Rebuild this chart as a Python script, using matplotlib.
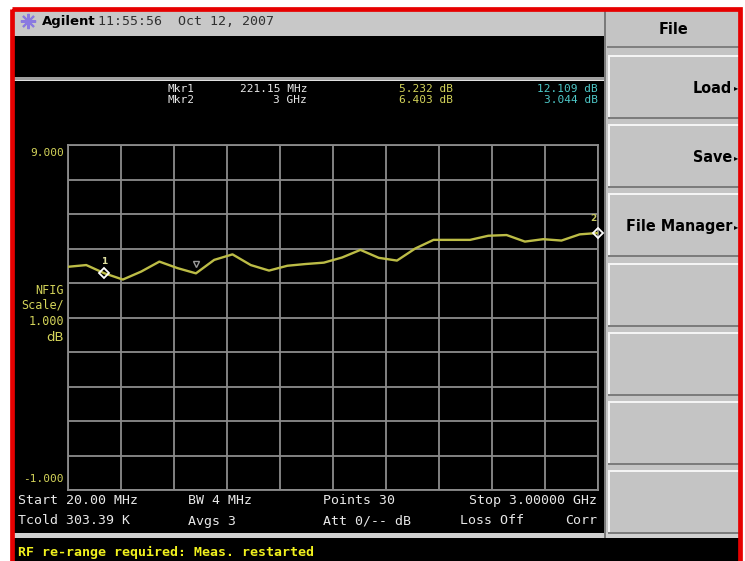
import numpy as np
import matplotlib
matplotlib.use("Agg")
import matplotlib.pyplot as plt
from matplotlib.patches import Rectangle

# sweep settings shown on the screen
start_mhz = 20.0
stop_mhz = 3000.0
n_points = 30
freq_mhz = np.linspace(start_mhz, stop_mhz, n_points)

# noise figure trace (dB)
nf_db = [5.47, 5.52, 5.28, 5.10, 5.33, 5.62, 5.43, 5.28, 5.67, 5.83,
         5.52, 5.36, 5.50, 5.55, 5.59, 5.74, 5.96, 5.73, 5.65, 6.00,
         6.25, 6.25, 6.25, 6.37, 6.39, 6.20, 6.27, 6.23, 6.41, 6.45]

mkr_freq = [221.15, 3000.0]
y_top = 9.0
y_bottom = -1.0
softkeys = ["Load", "Save", "File Manager", "", "", "", ""]

W, H = 745, 561
fig = plt.figure(figsize=(W / 100, H / 100), dpi=100)
fig.patch.set_facecolor("white")

# full-figure axes in pixel coords for the instrument frame
bg = fig.add_axes([0, 0, 1, 1])
bg.set_xlim(0, W)
bg.set_ylim(H, 0)
bg.axis("off")

def box(x, y, w, h, color, z=1):
    bg.add_patch(Rectangle((x, y), w, h, facecolor=color, edgecolor="none", zorder=z))

# screen areas
box(14, 10, 591, 26, "#c8c8c8")           # title bar
box(14, 36, 591, 500, "black")             # display
box(14, 77, 591, 3, "#a0a0a0", 2)          # separator
box(14, 80, 591, 1, "#e0e0e0", 2)
box(605, 10, 134, 528, "#c4c4c4")          # softkey panel
box(604, 10, 2, 528, "#7a7a7a", 2)
box(14, 533, 725, 5, "#d0d0d0")            # line under display
box(14, 538, 725, 30, "black")             # message bar

# title bar
bg.plot([28], [21], marker=(8, 2, 0), ms=11, color="#8a7ae0", mew=1.5, zorder=3)
bg.text(42, 21, "Agilent", fontsize=9.5, weight="bold", color="black", va="center", zorder=3)
bg.text(98, 21, "11:55:56  Oct 12, 2007", fontsize=9.5, family="DejaVu Sans Mono",
        color="#303030", va="center", zorder=3)

# softkeys
bg.text(673, 29, "File", fontsize=11.5, weight="bold", fontstretch="condensed",
        color="black", ha="center", va="center", zorder=3)
box(607, 46, 132, 2, "#808080", 2)
for i, label in enumerate(softkeys):
    top = 55 + i * 69.2
    box(608, top, 131, 64, "#c4c4c4", 2)
    box(608, top, 131, 2, "#f4f4f4", 3)
    box(608, top, 2, 64, "#f4f4f4", 3)
    box(608, top + 62, 131, 2, "#7c7c7c", 3)
    if label:
        bg.text(732, top + 33, label, fontsize=11.5, weight="bold", fontstretch="condensed",
                color="black", ha="right", va="center", zorder=4)
        bg.text(738, top + 33, "\u25b8", fontsize=6, color="black", ha="right",
                va="center", zorder=4)

# red frame
bg.add_patch(Rectangle((12, 9), 728, 560, fill=False, edgecolor="#e60000",
                       linewidth=3.4, zorder=10))

mono = "DejaVu Sans Mono"
yel = "#d4d45a"
cyan = "#4ec8c8"
white = "#e8e8e8"

# marker readouts
bg.text(167, 89, "Mkr1", family=mono, fontsize=8, color=white, va="center", zorder=3)
bg.text(167, 100, "Mkr2", family=mono, fontsize=8, color=white, va="center", zorder=3)
bg.text(307, 89, "221.15 MHz", family=mono, fontsize=8, color=white, ha="right", va="center", zorder=3)
bg.text(307, 100, "3 GHz", family=mono, fontsize=8, color=white, ha="right", va="center", zorder=3)
bg.text(453, 89, "5.232 dB", family=mono, fontsize=8, color=yel, ha="right", va="center", zorder=3)
bg.text(453, 100, "6.403 dB", family=mono, fontsize=8, color=yel, ha="right", va="center", zorder=3)
bg.text(598, 89, "12.109 dB", family=mono, fontsize=8, color=cyan, ha="right", va="center", zorder=3)
bg.text(598, 100, "3.044 dB", family=mono, fontsize=8, color=cyan, ha="right", va="center", zorder=3)

# y scale labels
bg.text(64, 153, "9.000", family=mono, fontsize=8, color=yel, ha="right", va="center", zorder=3)
bg.text(64, 479, "-1.000", family=mono, fontsize=8, color=yel, ha="right", va="center", zorder=3)
for yy, s in zip([290, 305, 321], ["NFIG", "Scale/", "1.000"]):
    bg.text(64, yy, s, family=mono, fontsize=8.5, color=yel, ha="right", va="center", zorder=3)
bg.text(64, 337, "dB", family="DejaVu Sans", fontsize=9.5, color=yel, ha="right", va="center", zorder=3)

# settings lines under the graticule
lines = [(18, 500, "Start 20.00 MHz", "left"), (18, 521, "Tcold 303.39 K", "left"),
         (188, 500, "BW 4 MHz", "left"), (188, 521, "Avgs 3", "left"),
         (323, 500, "Points 30", "left"), (323, 521, "Att 0/-- dB", "left"),
         (597, 500, "Stop 3.00000 GHz", "right"), (460, 521, "Loss Off", "left"),
         (597, 521, "Corr", "right")]
for x, y, s, ha in lines:
    bg.text(x, y, s, family=mono, fontsize=9.5, color=white, ha=ha, va="center", zorder=3)

bg.text(18, 552, "RF re-range required: Meas. restarted", family=mono, fontsize=9.5,
        weight="bold", color="#f2f21e", va="center", zorder=3)

# graticule with the trace
ax = fig.add_axes([68 / W, (H - 490) / H, 530 / W, 345 / H])
ax.set_facecolor("black")
ax.set_xlim(start_mhz, stop_mhz)
ax.set_ylim(y_bottom, y_top)
ax.set_xticks(np.linspace(start_mhz, stop_mhz, 11))
ax.set_yticks(np.arange(y_bottom, y_top + 1, 1))
ax.tick_params(length=0, labelbottom=False, labelleft=False)
ax.grid(True, color="#8c8c8c", linewidth=1.3)
for sp in ax.spines.values():
    sp.set_color("#8c8c8c")
    sp.set_linewidth(1.3)

ax.plot(freq_mhz, nf_db, color="#bcbc46", linewidth=1.7, zorder=3)

mkr_db = np.interp(mkr_freq, freq_mhz, nf_db)
ax.plot(mkr_freq, mkr_db, linestyle="none", marker="D", ms=5.5, mfc="none",
        mec="white", mew=1.3, zorder=4, clip_on=False)
ax.text(mkr_freq[0], mkr_db[0] + 0.32, "1", fontsize=6.5, color="#e0e0a0", ha="center",
        va="center", weight="bold", zorder=4)
ax.text(mkr_freq[1] - 25, mkr_db[1] + 0.42, "2", fontsize=6.5, color="#c8c860", ha="center",
        va="center", weight="bold", zorder=4, clip_on=False)
ax.plot([740], [5.55], marker="v", ms=4, mfc="none", mec="#9a9a9a", mew=1, zorder=4)

fig.savefig("out.png", dpi=100, facecolor="white")
